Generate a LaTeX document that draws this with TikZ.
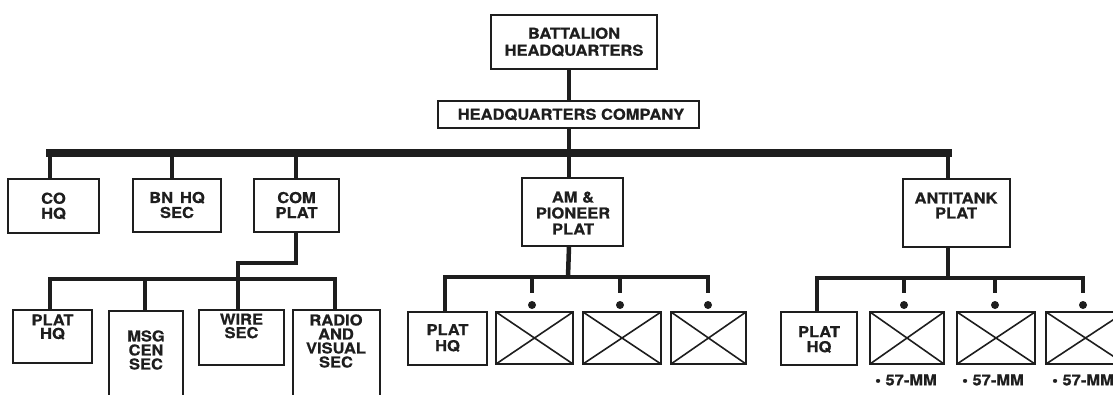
\documentclass[tikz,border=0pt]{standalone}
\usepackage{fontspec}
\setmainfont[FakeStretch=1.1, BoldFeatures={FakeBold=0.6}]{TeX Gyre Heros}
\definecolor{ink}{HTML}{1E1E1E}
\newcommand\bx[6][]{\node[box,#1,minimum width={(#5-#3)*1pt},minimum height={(#6-#4)*1pt}] (#2) at ({(#3+#5)/2},{(#4+#6)/2}) {};}
\newcommand\xbx[5]{\bx{#1}{#2}{#3}{#4}{#5}\draw[cross] (#1.north west) -- (#1.south east) (#1.north east) -- (#1.south west);}
\begin{document}
\begin{tikzpicture}[x=1pt,y=-1pt,
  box/.style={draw=ink, line width=2.4pt, rectangle, inner sep=0pt, outer sep=0pt},
  txt/.style={font=\fontsize{15}{#1}\selectfont\bfseries, align=center, inner sep=0pt, text=ink},
  txt/.default=15,
  bus/.style={draw=ink, line width=7.5pt, line cap=rect},
  link/.style={draw=ink, line width=4.5pt, line join=miter},
  cross/.style={draw=ink, line width=1.6pt},
  dot/.style={circle, fill=ink, inner sep=0pt, minimum size=8pt}]
\useasboundingbox (0,0) rectangle (1113,395);
\fill[white] (0,0) rectangle (1113,395);
% top
\bx{bhq}{491}{15}{657}{69}
\node[txt=17] (tbhq) at (574,42) {BATTALION\\HEADQUARTERS};
\bx{hqco}{438}{101}{699}{128}
\node[txt] (thqco) at (571,114.5) {HEADQUARTERS COMPANY};
% second row
\bx{coHQ}{8}{179}{99}{233}
\node[txt] (tco) at (53.5,206) {CO\\HQ};
\bx{bnhq}{133}{179}{221}{232}
\node[txt] (tbn) at (177,205) {BN\hspace{7pt}HQ\\SEC};
\bx{com}{254}{179}{339}{232}
\node[txt] (tcom) at (296.5,205) {COM\\PLAT};
\bx{amp}{522}{178}{623}{246}
\node[txt=16] (tamp) at (573,213) {AM \&\\PIONEER\\PLAT};
\bx{atp}{903}{179}{1010}{247}
\node[txt] (tatp) at (956,205.5) {ANTITANK\\PLAT};
% com platoon subunits
\bx{cph}{13}{310}{92}{363}
\node[txt=13.5] (tcph) at (52.5,327) {PLAT\\HQ};
\bx{msg}{109}{311}{183}{420}
\node[txt=14] (tmsg) at (146,350) {MSG\\CEN\\SEC};
\bx{wire}{199}{310}{284}{365}
\node[txt=13.5] (twire) at (241.5,326) {WIRE\\SEC};
\bx{radio}{293}{310}{380}{420}
\node[txt=14] (tradio) at (336,341) {RADIO\\AND\\VISUAL\\SEC};
% am & pioneer subunits
\bx{aph}{408}{312}{487}{365}
\node[txt=16] (taph) at (447.5,338) {PLAT\\HQ};
\xbx{ax1}{496}{312}{573}{364}
\xbx{ax2}{583}{312}{661}{364}
\xbx{ax3}{671}{312}{746}{364}
% antitank subunits
\bx{tph}{781}{312}{857}{365}
\node[txt] (ttph) at (819,339.5) {PLAT\\HQ};
\xbx{tx1}{870}{312}{944}{364}
\xbx{tx2}{957}{312}{1035}{364}
\xbx{tx3}{1046}{312}{1125}{364}
\node[txt] (m1) at (906,380) {\textbullet\ 57-MM};
\node[txt] (m2) at (993,380) {\textbullet\ 57-MM};
\node[txt] (m3) at (1083,380) {\textbullet\ 57-MM};
% connectors
\coordinate (sp) at (569,153);
\draw[link] (bhq.south -| sp) -- (hqco.north -| sp);
\draw[link] (hqco.south -| sp) -- (amp.north -| sp);
\coordinate (d1) at (50,153);
\coordinate (d2) at (172,153);
\coordinate (d3) at (296,153);
\coordinate (d5) at (948,153);
\draw[bus] (d1) -- (d5);
\draw[link] (d1) -- (d1 |- coHQ.north);
\draw[link] (d2) -- (d2 |- bnhq.north);
\draw[link] (d3) -- (d3 |- com.north);
\draw[link] (d5) -- (d5 |- atp.north);
% com sub-bus
\coordinate (cj) at (238,263);
\coordinate (s1) at (50,279);
\coordinate (s2) at (145,279);
\coordinate (s3) at (238,279);
\coordinate (s4) at (335,279);
\draw[link] (d3 |- com.south) |- (cj) -- (s3);
\draw[link] (s1 |- cph.north) |- (s4) -- (s4 |- radio.north);
\draw[link] (s2) -- (s2 |- msg.north);
\draw[link] (s3) -- (s3 |- wire.north);
% am sub-bus
\coordinate (a0) at (568,277);
\coordinate (a1) at (445,277);
\coordinate (a2) at (532,277);
\coordinate (a3) at (620,277);
\coordinate (a4) at (708,277);
\draw[link] (sp |- amp.south) -- (a0);
\draw[link] (a1 |- aph.north) |- (a4) -- ++(0,16);
\draw[link] (a2) -- ++(0,16);
\draw[link] (a3) -- ++(0,16);
\node[dot] (ad1) at (a2 |- 0,305) {};
\node[dot] (ad2) at (a3 |- 0,305) {};
\node[dot] (ad3) at (a4 |- 0,305) {};
% antitank sub-bus
\coordinate (b1) at (817,278);
\coordinate (b2) at (904,278);
\coordinate (b3) at (995,278);
\coordinate (b4) at (1083,278);
\draw[link] (d5 |- atp.south) -- (d5 |- b1);
\draw[link] (b1 |- tph.north) |- (b4) -- ++(0,15);
\draw[link] (b2) -- ++(0,15);
\draw[link] (b3) -- ++(0,15);
\node[dot] (bd1) at (b2 |- 0,305) {};
\node[dot] (bd2) at (b3 |- 0,305) {};
\node[dot] (bd3) at (b4 |- 0,305) {};
\end{tikzpicture}
\end{document}
